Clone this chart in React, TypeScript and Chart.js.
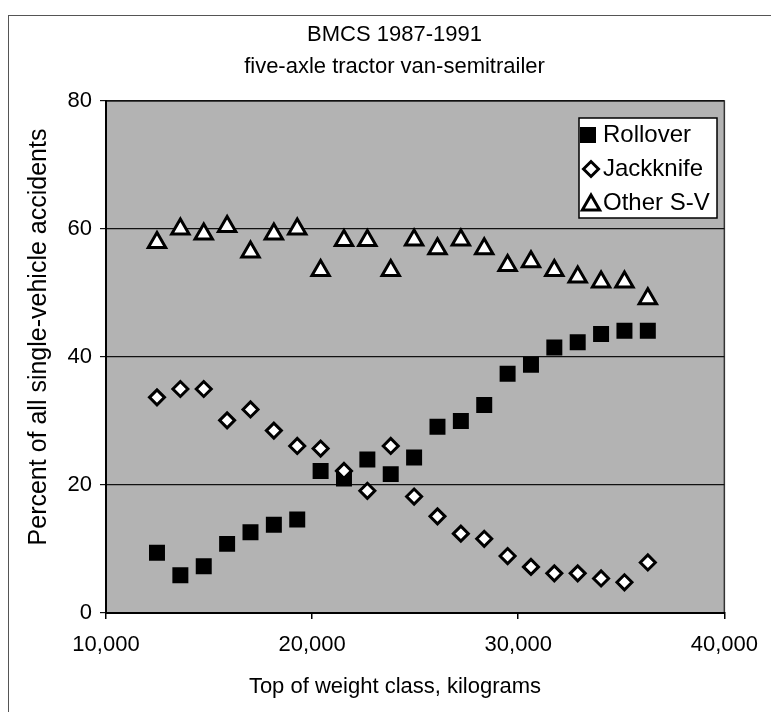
import React, { useEffect, useRef } from 'react';
import { Chart, registerables } from 'chart.js';

Chart.register(...registerables);

// ---- Data ----
const TITLE_LINES = ['BMCS 1987-1991', 'five-axle tractor van-semitrailer'];
const X_TITLE = 'Top of weight class, kilograms';
const Y_TITLE = 'Percent of all single-vehicle accidents';
const SERIES_NAMES = ['Rollover', 'Jackknife', 'Other S-V'];

const WEIGHT_KG = [
  12474, 13608, 14742, 15876, 17010, 18144, 19278, 20412, 21546, 22680, 23814,
  24948, 26082, 27216, 28350, 29484, 30618, 31751, 32885, 34019, 35153, 36287,
];
const ROLLOVER = [
  9.4, 5.9, 7.3, 10.8, 12.6, 13.8, 14.6, 22.2, 21.0, 24.0, 21.7,
  24.3, 29.1, 30.0, 32.5, 37.4, 38.8, 41.5, 42.3, 43.6, 44.1, 44.1,
];
const JACKKNIFE = [
  33.7, 35.0, 35.0, 30.1, 31.8, 28.5, 26.1, 25.7, 22.2, 19.1, 26.1,
  18.2, 15.1, 12.4, 11.6, 8.9, 7.2, 6.2, 6.2, 5.4, 4.8, 7.9,
];
const OTHER_SV = [
  57.9, 60.0, 59.2, 60.4, 56.4, 59.2, 60.0, 53.5, 58.2, 58.2, 53.5,
  58.3, 56.9, 58.3, 56.9, 54.3, 54.9, 53.5, 52.5, 51.7, 51.7, 49.1,
];

const X_TICKS = [10000, 20000, 30000, 40000];
const X_TICK_LABELS = ['10,000', '20,000', '30,000', '40,000'];
const Y_TICKS = [0, 20, 40, 60, 80];
const Y_TICK_LABELS = ['0', '20', '40', '60', '80'];

const FONT = "'Liberation Sans', Arial, Helvetica, sans-serif";

function markerPath(ctx: CanvasRenderingContext2D, style: string, x: number, y: number, r: number) {
  ctx.beginPath();
  if (style === 'rect') {
    const s = r * Math.SQRT1_2;
    ctx.rect(x - s, y - s, 2 * s, 2 * s);
  } else if (style === 'rectRot') {
    ctx.moveTo(x - r, y);
    ctx.lineTo(x, y - r);
    ctx.lineTo(x + r, y);
    ctx.lineTo(x, y + r);
    ctx.closePath();
  } else {
    const a = (2 * Math.PI) / 3;
    ctx.moveTo(x, y - r);
    ctx.lineTo(x + Math.sin(a) * r, y - Math.cos(a) * r);
    ctx.lineTo(x + Math.sin(2 * a) * r, y - Math.cos(2 * a) * r);
    ctx.closePath();
  }
}

const decorPlugin = {
  id: 'decor',
  beforeDraw(chart: any) {
    const { ctx, chartArea: a } = chart;
    ctx.save();
    ctx.fillStyle = '#ffffff';
    ctx.fillRect(0, 0, chart.width, chart.height);
    ctx.strokeStyle = '#555555';
    ctx.lineWidth = 1;
    ctx.strokeRect(8.5, 15.5, chart.width + 40, chart.height + 40);
    ctx.fillStyle = '#b3b3b3';
    ctx.fillRect(a.left, a.top, a.right - a.left, a.bottom - a.top);
    ctx.strokeStyle = '#333333';
    ctx.lineWidth = 1.5;
    ctx.beginPath();
    ctx.moveTo(a.left, a.top);
    ctx.lineTo(a.right, a.top);
    ctx.lineTo(a.right, a.bottom);
    ctx.stroke();
    ctx.restore();
  },
  afterDraw(chart: any) {
    const { ctx } = chart;
    ctx.save();
    // axis titles
    ctx.fillStyle = '#000';
    ctx.textAlign = 'center';
    ctx.textBaseline = 'middle';
    ctx.font = `22px ${FONT}`;
    ctx.fillText(X_TITLE, 395, 687);
    ctx.save();
    ctx.translate(39, 337);
    ctx.rotate(-Math.PI / 2);
    ctx.font = `25px ${FONT}`;
    ctx.fillText(Y_TITLE, 0, 0);
    ctx.restore();

    // legend box
    const L = 579, T = 118, R = 717, B = 218;
    ctx.fillStyle = '#ffffff';
    ctx.fillRect(L, T, R - L, B - T);
    ctx.strokeStyle = '#000';
    ctx.lineWidth = 1.5;
    ctx.strokeRect(L, T, R - L, B - T);
    const rowH = 34;
    chart.data.datasets.forEach((ds: any, i: number) => {
      const cy = T + 17 + i * rowH;
      const mx = ds.pointStyle === 'rect' ? 588 : 591;
      markerPath(ctx, ds.pointStyle, mx, cy + (ds.pointStyle === 'triangle' ? 2 : 0), ds.pointRadius);
      ctx.fillStyle = ds.backgroundColor;
      ctx.fill();
      if (ds.borderWidth > 0) {
        ctx.lineWidth = ds.borderWidth;
        ctx.strokeStyle = ds.borderColor;
        ctx.stroke();
      }
      ctx.fillStyle = '#000';
      ctx.textAlign = 'left';
      ctx.textBaseline = 'middle';
      ctx.font = `24px ${FONT}`;
      ctx.fillText(ds.label, 603, cy);
    });
    ctx.restore();
  },
};

export default function App() {
  const ref = useRef<HTMLCanvasElement | null>(null);

  useEffect(() => {
    if (!ref.current) return;
    const pts = (ys: number[]) => WEIGHT_KG.map((x, i) => ({ x, y: ys[i] }));
    const chart = new Chart(ref.current, {
      type: 'scatter',
      data: {
        datasets: [
          {
            label: SERIES_NAMES[0],
            data: pts(ROLLOVER),
            pointStyle: 'rect',
            pointRadius: 11.3,
            backgroundColor: '#000000',
            borderColor: '#000000',
            borderWidth: 0,
            order: 3,
          },
          {
            label: SERIES_NAMES[1],
            data: pts(JACKKNIFE),
            pointStyle: 'rectRot',
            pointRadius: 7.5,
            backgroundColor: '#ffffff',
            borderColor: '#000000',
            borderWidth: 3,
            order: 2,
          },
          {
            label: SERIES_NAMES[2],
            data: pts(OTHER_SV),
            pointStyle: 'triangle',
            pointRadius: 10,
            backgroundColor: '#ffffff',
            borderColor: '#000000',
            borderWidth: 3,
            order: 1,
          },
        ] as any,
      },
      options: {
        responsive: false,
        animation: false,
        events: [],
        layout: { padding: { left: 18, right: 0, top: 0, bottom: 0 } },
        plugins: {
          legend: { display: false },
          tooltip: { enabled: false },
          title: {
            display: true,
            text: TITLE_LINES,
            color: '#000',
            font: { family: FONT, size: 22, weight: 'normal', lineHeight: 32 / 22 },
            padding: { top: 19, bottom: 18 },
          },
        },
        scales: {
          x: {
            type: 'linear',
            position: 'bottom',
            min: 10000,
            max: 40000,
            afterBuildTicks: (s: any) => {
              s.ticks = X_TICKS.map((v) => ({ value: v }));
            },
            afterFit: (s: any) => {
              s.height = 99;
            },
            ticks: {
              autoSkip: false,
              maxRotation: 0,
              color: '#000',
              padding: 13,
              font: { family: FONT, size: 22 },
              callback: (v: any) => X_TICK_LABELS[X_TICKS.indexOf(Number(v))] ?? '',
            },
            grid: { drawOnChartArea: false, tickLength: 6, color: '#000', lineWidth: 1.5 },
            border: { display: true, color: '#000', width: 2 },
          },
          y: {
            type: 'linear',
            position: 'left',
            min: 0,
            max: 80,
            afterBuildTicks: (s: any) => {
              s.ticks = Y_TICKS.map((v) => ({ value: v }));
            },
            afterFit: (s: any) => {
              s.width = 88;
            },
            ticks: {
              color: '#000',
              padding: 8,
              font: { family: FONT, size: 22 },
              callback: (v: any) => Y_TICK_LABELS[Y_TICKS.indexOf(Number(v))] ?? '',
            },
            grid: { color: '#111', lineWidth: 1.2, tickLength: 6 },
            border: { display: true, color: '#000', width: 2 },
          },
          y2: {
            type: 'linear',
            position: 'right',
            min: 0,
            max: 80,
            ticks: { display: false },
            grid: { display: false },
            border: { display: false },
            afterFit: (s: any) => {
              s.width = 37;
            },
          },
        },
      } as any,
      plugins: [decorPlugin],
    });
    return () => chart.destroy();
  }, []);

  return (
    <canvas
      ref={ref}
      width={771}
      height={712}
      style={{ position: 'fixed', left: 0, top: 0, width: 771, height: 712, display: 'block' }}
    />
  );
}
